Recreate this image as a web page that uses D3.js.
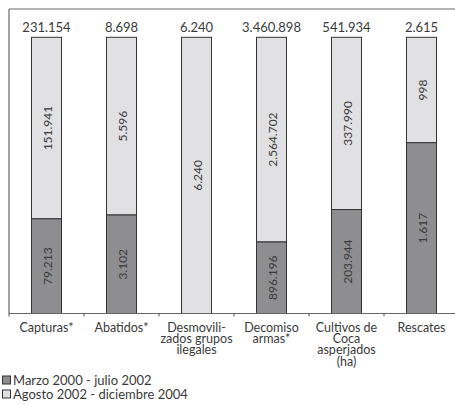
<!DOCTYPE html>
<html>
<head>
<meta charset="utf-8">
<script src="https://cdn.jsdelivr.net/npm/d3@7"></script>
<style>
body{margin:0;background:#fff;}
svg{display:block;}
text{font-family:Lato,"Open Sans",sans-serif;fill:#3a3a3a;}
</style>
</head>
<body>
<svg id="c" width="455" height="404"></svg>
<script>
const categories = ["Capturas*", "Abatidos*", "Desmovili-|zados grupos|ilegales", "Decomiso|armas*", "Cultivos de|Coca|asperjados|(ha)", "Rescates"];
const period1 = [79213, 3102, 0, 896196, 203944, 1617];
const period2 = [151941, 5596, 6240, 2564702, 337990, 998];
const totals = [231154, 8698, 6240, 3460898, 541934, 2615];
const seriesNames = ["Marzo 2000 - julio 2002", "Agosto 2002 - diciembre 2004"];
const colors = ["#8e8e90", "#e1e1e3"];

const fmt = v => d3.format(",")(v).replace(/,/g, ".");

const svg = d3.select("#c");
const pLeft = 9, pRight = 459, pTop = 9, base = 313.5, barTop = 37.3;

const x = d3.scaleBand().domain(categories).range([pLeft, pRight]).paddingInner(0.6).paddingOuter(0.3);
const y = d3.scaleLinear().domain([0, 1]).range([base, barTop]);

svg.append("line").attr("x1", pLeft).attr("x2", 455).attr("y1", pTop).attr("y2", pTop).attr("stroke", "#666").attr("stroke-width", 1.2);
svg.append("line").attr("x1", pLeft).attr("x2", pLeft).attr("y1", pTop).attr("y2", base).attr("stroke", "#666").attr("stroke-width", 1.2);

const data = categories.map((c, i) => ({c, a: period1[i], b: period2[i], t: totals[i]}));

const g = svg.append("g");
data.forEach(d => {
  const sum = d.a + d.b;
  const fa = d.a / sum;
  const x0 = x(d.c), w = x.bandwidth();
  g.append("rect").attr("x", x0).attr("y", y(1)).attr("width", w).attr("height", y(fa) - y(1))
    .attr("fill", colors[1]).attr("stroke", "#333").attr("stroke-width", 1);
  if (d.a > 0) {
    g.append("rect").attr("x", x0).attr("y", y(fa)).attr("width", w).attr("height", y(0) - y(fa))
      .attr("fill", colors[0]).attr("stroke", "#333").attr("stroke-width", 1);
  }
  const cx = x0 + w / 2;
  const lb = (y(1) + y(fa)) / 2;
  g.append("text").attr("transform", `translate(${cx + 5},${lb}) rotate(-90)`)
    .attr("text-anchor", "middle").attr("font-size", 12).text(fmt(d.b));
  if (d.a > 0) {
    const la = (y(fa) + y(0)) / 2;
    g.append("text").attr("transform", `translate(${cx + 5},${la}) rotate(-90)`)
      .attr("text-anchor", "middle").attr("font-size", 12).text(fmt(d.a));
  }
  g.append("text").attr("x", cx).attr("y", 31.5).attr("text-anchor", "middle").attr("font-size", 13).text(fmt(d.t));
});

const axis = d3.axisBottom(x).tickSize(0).tickFormat("");
const ag = svg.append("g").attr("transform", `translate(0,${base})`).call(axis);
ag.select(".domain").attr("stroke", "#666").attr("stroke-width", 1.2).attr("d", `M${pLeft},0H455`);
const step = x.step();
d3.range(categories.length).forEach(i => {
  ag.append("line").attr("x1", pLeft + i * step).attr("x2", pLeft + i * step).attr("y1", 0).attr("y2", 3).attr("stroke", "#555");
});
data.forEach(d => {
  const cx = x(d.c) + x.bandwidth() / 2;
  const lines = d.c.split("|");
  const t = svg.append("text").attr("text-anchor", "middle").attr("font-size", 12.5);
  lines.forEach((l, j) => {
    t.append("tspan").attr("x", cx).attr("y", 331.5 + j * 11.4).text(l);
  });
});

seriesNames.forEach((n, i) => {
  const yy = 376 + i * 14;
  svg.append("rect").attr("x", 2.5).attr("y", yy).attr("width", 8).attr("height", 8)
    .attr("fill", colors[i]).attr("stroke", "#333").attr("stroke-width", 1);
  svg.append("text").attr("x", 13).attr("y", yy + 8.5).attr("font-size", 13).text(n);
});
</script>
</body>
</html>
